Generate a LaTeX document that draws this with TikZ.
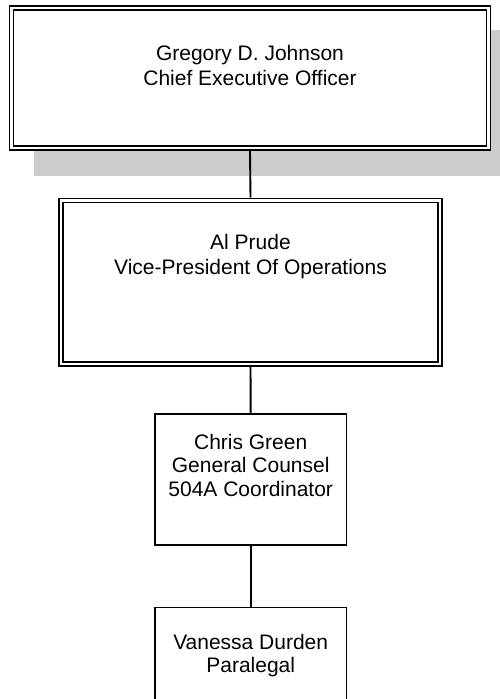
\documentclass[tikz,border=0pt]{standalone}
\usepackage{fontspec}
\setmainfont{Liberation Sans}
\usetikzlibrary{backgrounds}
\begin{document}
\begin{tikzpicture}[x=1pt,y=-1pt,
  box/.style={draw, line width=1.9pt, fill=white, inner sep=0pt},
  innerline/.style={line width=1.2pt},
  shadowfill/.style={fill=black!20},
  lbl/.style={align=center, inner sep=0pt, font=\fontsize{21}{25}\selectfont},
  lbls/.style={align=center, inner sep=0pt, font=\fontsize{21}{23.5}\selectfont},
  link/.style={line width=1.9pt}]
\useasboundingbox (0,0) rectangle (499,699);
\clip (0,0) rectangle (499,699);
% boxes
\node[box, minimum width=481pt, minimum height=144pt] (ceo) at (250,78) {};
\node[box, minimum width=383pt, minimum height=167.5pt] (vp) at (250.5,282.25) {};
\node[box, minimum width=191.5pt, minimum height=131pt] (cg) at (250.7,479.5) {};
\node[box, minimum width=191.5pt, minimum height=120pt] (vd) at (250.7,667.5) {};
\draw[innerline] ([shift={(5,5)}]ceo.north west) rectangle ([shift={(-5,-5)}]ceo.south east);
\draw[innerline] ([shift={(5,5)}]vp.north west) rectangle ([shift={(-5,-5)}]vp.south east);
% connectors
\draw[link] (ceo.south) -- (vp.north);
\draw[link] (vp.south) -- (cg.north);
\draw[link] (cg.south) -- (vd.north);
% shadow of the top box
\begin{pgfonlayer}{background}
\fill[shadowfill] ([shift={(25,25)}]ceo.north west) rectangle ([shift={(25,25)}]ceo.south east);
\end{pgfonlayer}
% labels
\node[lbl] (ceoT) at (250,65) {Gregory D. Johnson\\Chief Executive Officer};
\node[lbl] (vpT) at (250.5,256.5) {Al Prude\\Vice-President Of Operations};
\node[lbls] (cgT) at (250.7,465) {Chris Green\\General Counsel\\504A Coordinator};
\node[lbls] (vdT) at (250.7,655.5) {Vanessa Durden\\Paralegal};
\end{tikzpicture}
\end{document}
